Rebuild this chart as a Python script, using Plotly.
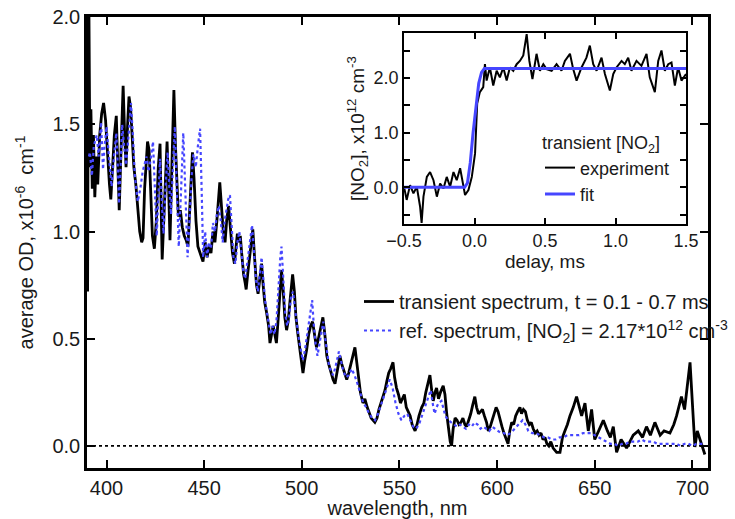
import plotly.graph_objects as go

# ---- main spectrum: transient (black) ----
trans_wl = [390.3, 390.8, 391.5, 392.0, 392.7, 393.3, 394.0, 394.8, 395.5, 396.5, 397.5, 398.5, 399.5,
            400.5, 401.5, 402.2, 403.0, 404.0, 405.0, 405.8, 406.5, 407.5, 408.5, 409.3, 410.0, 410.8,
            411.5, 412.3, 413.2, 414.0, 415.0, 416.0, 417.0, 418.0, 418.7, 419.5, 420.3, 421.0, 421.8,
            422.6, 423.5, 424.5, 425.5, 426.5, 427.4, 428.0, 428.5, 429.3, 430.2, 431.0, 431.8, 432.5,
            433.3, 434.5, 435.3, 436.0, 436.8, 437.8, 438.8, 439.8, 440.8, 441.7, 442.5, 443.3, 444.0,
            444.8, 445.8, 446.8, 448.0, 449.4, 450.5, 451.5, 452.5, 453.5, 454.5, 455.5, 456.5, 457.3,
            458.0, 459.0, 459.8, 460.7, 461.5, 462.5, 463.5, 464.5, 465.5, 466.3, 467.0, 467.8, 468.5,
            469.2, 470.2, 471.0, 471.5, 472.5, 473.5, 474.9, 475.8, 476.8, 477.6, 478.5, 479.4, 480.2,
            481.0, 482.0, 483.0, 483.7, 484.5, 485.3, 486.2, 487.0, 487.8, 488.7, 489.6, 490.5, 491.3,
            492.2, 493.0, 494.0, 495.3, 496.2, 497.0, 498.0, 499.0, 500.0, 500.6, 501.5, 502.5, 503.5,
            504.5, 505.5, 506.5, 507.5, 508.5, 509.5, 510.8, 511.8, 512.8, 513.8, 515.0, 516.0, 517.0,
            518.0, 519.5, 520.5, 521.5, 523.0, 524.0, 525.0, 526.0, 527.2, 528.0, 529.0, 530.0, 531.3,
            532.3, 533.5, 534.5, 535.5, 537.4, 538.5, 539.5, 540.5, 541.5, 542.6, 543.5, 544.5, 545.5,
            546.7, 547.5, 548.5, 549.5, 550.5, 551.5, 552.5, 553.5, 554.5, 555.5, 556.5, 558.0, 559.0,
            560.0, 561.4, 562.5, 563.5, 564.5, 565.6, 566.5, 567.3, 568.2, 569.0, 570.0, 571.0, 572.4,
            573.3, 574.2, 575.0, 576.0, 576.7, 577.5, 578.5, 579.5, 580.5, 581.5, 582.5, 583.5, 584.4,
            585.5, 586.5, 587.5, 588.6, 589.5, 590.5, 591.5, 592.5, 593.5, 594.6, 595.5, 596.5, 597.5,
            598.5, 599.5, 600.5, 601.5, 602.5, 603.5, 604.9, 605.6, 606.5, 607.5, 608.5, 609.5, 610.5,
            611.7, 612.5, 613.5, 614.5, 615.5, 616.5, 617.5, 618.5, 619.5, 620.5, 621.5, 622.5, 623.5,
            624.5, 625.5, 626.5, 627.5, 628.7, 629.5, 630.5, 632.2, 633.5, 634.7, 636.0, 637.3, 639.0,
            640.7, 642.0, 643.3, 645.0, 646.7, 648.4, 650.0, 652.0, 654.4, 656.5, 658.0, 659.5, 661.2,
            663.5, 666.3, 668.0, 669.7, 672.3, 674.5, 676.5, 678.5, 680.8, 683.5, 685.5, 688.5, 690.5,
            691.9, 694.4, 696.0, 698.8, 700.0, 701.3, 702.5, 704.0, 706.4]
trans_od = [0.72, 2.30, 1.30, 1.57, 1.20, 1.45, 1.16, 1.35, 1.22, 1.45, 1.55, 1.60, 1.52,
            1.35, 1.22, 1.15, 1.30, 1.45, 1.54, 1.30, 1.10, 1.40, 1.68, 1.45, 1.30, 1.50,
            1.63, 1.58, 1.40, 1.30, 1.22, 1.10, 1.00, 0.95, 0.97, 1.20, 1.35, 1.42, 1.38,
            1.15, 0.98, 0.92, 1.05, 1.30, 1.41, 1.10, 0.87, 1.05, 1.30, 1.42, 1.20, 0.96,
            1.25, 1.66, 1.40, 1.20, 1.07, 1.10, 1.02, 0.98, 0.96, 0.93, 1.10, 1.30, 1.37,
            1.25, 1.05, 0.93, 0.90, 0.86, 0.95, 0.88, 0.93, 0.90, 1.00, 0.95, 1.05, 1.15,
            1.23, 1.10, 1.00, 0.95, 1.05, 1.12, 1.02, 0.90, 0.85, 0.92, 0.99, 0.95, 0.98,
            0.90, 0.80, 0.76, 0.73, 0.82, 0.90, 1.01, 0.88, 0.75, 0.71, 0.78, 0.85, 0.75,
            0.67, 0.62, 0.56, 0.48, 0.53, 0.56, 0.52, 0.48, 0.58, 0.72, 0.82, 0.72, 0.60,
            0.54, 0.58, 0.68, 0.80, 0.72, 0.60, 0.52, 0.45, 0.38, 0.34, 0.40, 0.45, 0.52,
            0.56, 0.58, 0.52, 0.46, 0.50, 0.55, 0.60, 0.52, 0.42, 0.38, 0.34, 0.31, 0.29,
            0.35, 0.42, 0.38, 0.35, 0.31, 0.34, 0.38, 0.42, 0.46, 0.40, 0.32, 0.25, 0.20,
            0.22, 0.18, 0.15, 0.13, 0.11, 0.13, 0.17, 0.20, 0.22, 0.26, 0.30, 0.34, 0.36,
            0.39, 0.32, 0.27, 0.24, 0.20, 0.22, 0.24, 0.18, 0.16, 0.14, 0.10, 0.07, 0.10,
            0.14, 0.18, 0.20, 0.25, 0.29, 0.33, 0.26, 0.21, 0.25, 0.27, 0.22, 0.25, 0.28,
            0.24, 0.15, 0.08, 0.02, 0.00, 0.08, 0.13, 0.12, 0.10, 0.11, 0.13, 0.10, 0.09,
            0.12, 0.15, 0.19, 0.23, 0.18, 0.15, 0.16, 0.17, 0.14, 0.11, 0.07, 0.09, 0.12,
            0.15, 0.18, 0.16, 0.12, 0.09, 0.06, 0.03, 0.01, 0.07, 0.11, 0.10, 0.14, 0.16,
            0.18, 0.15, 0.17, 0.16, 0.12, 0.10, 0.11, 0.08, 0.06, 0.07, 0.05, 0.06, 0.03,
            0.04, 0.01, 0.00, 0.02, -0.01, -0.02, -0.03, -0.03, 0.04, 0.07, 0.10, 0.14, 0.18,
            0.23, 0.19, 0.14, 0.20, 0.07, 0.17, 0.03, 0.07, 0.12, 0.07, 0.04, 0.09, -0.03,
            0.03, -0.01, 0.02, 0.05, 0.07, 0.04, 0.09, 0.05, 0.11, 0.05, 0.07, 0.06, 0.10,
            0.14, 0.23, 0.17, 0.39, 0.20, -0.005, 0.07, 0.03, -0.04]

# ---- main spectrum: reference (blue dotted) ----
ref_wl = [391.0, 391.5, 392.5, 393.5, 395.0, 396.0, 397.2, 398.2, 399.0, 400.0, 401.2, 402.6, 403.8,
          405.0, 405.8, 406.4, 407.2, 408.0, 409.0, 410.0, 411.3, 412.5, 413.5, 414.5, 416.0, 417.3,
          418.5, 420.5, 421.5, 422.5, 423.8, 424.8, 425.7, 426.5, 427.4, 428.5, 429.2, 430.2, 431.3,
          432.2, 433.0, 434.0, 435.0, 436.0, 437.0, 438.2, 439.3, 440.5, 441.5, 442.5, 443.5, 444.5,
          445.7, 446.8, 447.9, 448.7, 449.5, 450.5, 451.5, 452.5, 453.5, 454.5, 455.5, 456.5, 457.5,
          458.5, 459.5, 460.5, 461.5, 462.3, 463.2, 464.2, 465.0, 466.0, 467.0, 468.0, 469.0, 470.0,
          471.0, 472.0, 473.0, 474.5, 475.5, 476.5, 477.5, 478.5, 479.4, 480.3, 481.2, 482.2, 483.2,
          484.0, 485.0, 486.0, 487.0, 488.0, 489.0, 489.6, 490.5, 491.5, 492.5, 493.5, 494.5, 495.5,
          496.5, 497.5, 498.5, 499.5, 500.5, 501.5, 502.5, 503.5, 504.5, 505.3, 506.0, 507.0, 508.0,
          509.0, 510.0, 511.0, 512.0, 513.0, 514.0, 515.0, 516.0, 517.0, 518.0, 519.0, 520.0, 521.0,
          522.5, 524.0, 525.5, 527.0, 528.5, 530.0, 531.5, 533.0, 534.5, 536.0, 537.5, 539.0, 540.5,
          542.0, 543.5, 545.0, 546.5, 548.0, 549.5, 551.0, 552.5, 554.0, 555.5, 557.0, 558.5, 560.0,
          561.5, 563.0, 564.5, 566.0, 567.0, 568.0, 569.0, 570.0, 571.5, 572.5, 573.5, 575.0, 576.5,
          578.0, 579.5, 581.0, 582.5, 584.0, 585.5, 587.0, 588.5, 590.0, 591.5, 593.0, 594.5, 596.0,
          597.5, 599.0, 600.5, 602.0, 603.5, 605.0, 607.0, 609.0, 611.0, 613.0, 614.5, 616.0, 618.0,
          620.0, 622.0, 624.0, 626.0, 628.0, 630.0, 632.0, 634.0, 636.0, 638.0, 640.0, 642.0, 644.0,
          646.0, 648.0, 650.0, 652.0, 654.0, 656.0, 658.0, 660.0, 662.0, 664.0, 666.0, 668.0, 670.0,
          672.0, 674.0, 676.0, 678.0, 680.0, 682.0, 684.0, 686.0, 688.0, 690.0, 692.0, 694.0, 696.0,
          698.0, 700.0, 702.0, 704.0, 706.0]
ref_od = [1.35, 1.37, 1.26, 1.40, 1.45, 1.35, 1.51, 1.29, 1.40, 1.49, 1.35, 1.21, 1.35,
          1.46, 1.30, 1.13, 1.30, 1.50, 1.40, 1.31, 1.45, 1.60, 1.45, 1.26, 1.14, 1.20,
          1.28, 1.35, 1.28, 1.33, 1.42, 1.20, 0.98, 1.15, 1.34, 1.10, 0.99, 1.20, 1.37,
          1.20, 1.08, 1.30, 1.49, 1.20, 0.93, 1.20, 1.46, 1.15, 0.88, 1.05, 1.25, 1.36,
          1.30, 1.40, 1.48, 1.20, 0.88, 1.00, 0.88, 0.95, 0.92, 1.04, 1.00, 1.08, 1.12,
          1.05, 0.95, 1.05, 1.10, 1.15, 1.17, 0.98, 0.88, 0.85, 0.95, 1.00, 0.90, 0.82,
          0.78, 0.84, 0.92, 1.03, 0.90, 0.78, 0.72, 0.80, 0.88, 0.78, 0.68, 0.62, 0.56,
          0.52, 0.56, 0.52, 0.58, 0.75, 0.88, 0.93, 0.80, 0.62, 0.56, 0.60, 0.70, 0.72,
          0.64, 0.56, 0.50, 0.45, 0.40, 0.44, 0.50, 0.55, 0.62, 0.68, 0.58, 0.48, 0.42,
          0.48, 0.54, 0.58, 0.50, 0.42, 0.37, 0.35, 0.33, 0.36, 0.40, 0.44, 0.40, 0.36,
          0.32, 0.33, 0.36, 0.33, 0.29, 0.24, 0.20, 0.18, 0.15, 0.13, 0.12, 0.15, 0.19,
          0.24, 0.28, 0.31, 0.27, 0.20, 0.15, 0.12, 0.14, 0.15, 0.12, 0.09, 0.08, 0.10,
          0.14, 0.18, 0.22, 0.26, 0.20, 0.15, 0.18, 0.20, 0.21, 0.17, 0.14, 0.12, 0.11,
          0.10, 0.09, 0.10, 0.09, 0.08, 0.10, 0.09, 0.11, 0.10, 0.08, 0.09, 0.08, 0.07,
          0.09, 0.08, 0.07, 0.06, 0.06, 0.05, 0.06, 0.08, 0.10, 0.12, 0.10, 0.07, 0.06,
          0.06, 0.05, 0.04, 0.04, 0.03, 0.03, 0.04, 0.04, 0.05, 0.05, 0.05, 0.05, 0.06,
          0.06, 0.06, 0.05, 0.04, 0.03, 0.02, 0.01, 0.01, 0.00, 0.01, 0.01, 0.02, 0.02,
          0.02, 0.03, 0.02, 0.02, 0.02, 0.01, 0.01, 0.01, 0.01, 0.01, 0.01, 0.00, 0.01,
          0.01, 0.00, 0.01, 0.01, 0.01]

# ---- inset: transient [NO2] ----
delay_ms = [-0.500, -0.481, -0.457, -0.433, -0.409, -0.386, -0.375, -0.362, -0.338, -0.315, -0.291,
            -0.267, -0.244, -0.220, -0.197, -0.173, -0.149, -0.126, -0.102, -0.083, -0.067, -0.043,
            -0.019, 0.004, 0.019, 0.038, 0.062, 0.074, 0.086, 0.109, 0.133, 0.157, 0.180, 0.204,
            0.228, 0.251, 0.275, 0.299, 0.322, 0.346, 0.370, 0.389, 0.411, 0.440, 0.464, 0.488,
            0.511, 0.547, 0.582, 0.617, 0.641, 0.677, 0.700, 0.724, 0.759, 0.794, 0.818, 0.842,
            0.866, 0.901, 0.925, 0.960, 0.984, 1.007, 1.043, 1.066, 1.090, 1.113, 1.149, 1.184,
            1.220, 1.243, 1.279, 1.303, 1.326, 1.350, 1.374, 1.397, 1.421, 1.444, 1.468, 1.500]
no2_exp = [0.01, -0.23, 0.04, -0.11, 0.01, -0.35, -0.65, -0.17, 0.19, 0.28, 0.13,
           -0.17, 0.07, -0.02, 0.19, 0.01, 0.28, 0.13, 0.35, 0.07, -0.14, -0.05,
           0.19, 0.62, 1.53, 1.74, 1.83, 2.25, 1.95, 2.19, 1.86, 2.13, 2.01, 2.19,
           1.95, 2.19, 2.13, 2.25, 2.31, 2.41, 2.80, 2.31, 1.98, 2.44, 2.13, 2.25,
           2.16, 2.13, 2.25, 2.13, 2.31, 2.44, 2.16, 1.95, 2.19, 2.37, 2.59, 2.25,
           2.13, 2.37, 2.07, 1.77, 2.07, 2.19, 2.31, 2.25, 2.37, 2.13, 2.31, 2.22,
           2.44, 2.01, 1.74, 2.31, 2.50, 2.13, 2.25, 2.28, 1.86, 2.19, 1.95, 2.07]
fit_ms = [-0.50, -0.07, -0.05, -0.03, -0.01, 0.01, 0.03, 0.05, 0.07, 0.09, 1.50]
no2_fit = [0.00, 0.00, 0.08, 0.45, 1.00, 1.50, 1.90, 2.10, 2.17, 2.17, 2.17]

x_ticks = [400, 450, 500, 550, 600, 650, 700]
y_ticks = [0.0, 0.5, 1.0, 1.5, 2.0]
inset_x_ticks = [-0.5, 0.0, 0.5, 1.0, 1.5]
inset_y_ticks = [0.0, 1.0, 2.0]

FONT = "Liberation Sans, Arial, sans-serif"
TXT = "#1a1a1a"
BLUE = "#4646ff"

W, H = 735, 519
PL, PR, PT, PB = 87, 708, 17, 468          # plot area in window pixels
PW, PH = PR - PL, PB - PT

def px_x(x):
    return (x - PL) / PW

def px_y(y):
    return (PB - y) / PH

fig = go.Figure()
fig.add_trace(go.Scatter(x=trans_wl, y=trans_od, mode="lines",
                         line=dict(color="black", width=2.8),
                         name="transient spectrum, t = 0.1 - 0.7 ms",
                         legendgroup="a", legend="legend"))
fig.add_trace(go.Scatter(x=ref_wl, y=ref_od, mode="lines",
                         line=dict(color=BLUE, width=2.2, dash="dot"),
                         name="ref. spectrum, [NO<sub>2</sub>] = 2.17*10<sup>12</sup> cm<sup>-3</sup>",
                         legendgroup="b", legend="legend"))
fig.add_trace(go.Scatter(x=delay_ms, y=no2_exp, mode="lines", xaxis="x2", yaxis="y2",
                         line=dict(color="black", width=2),
                         name="experiment", legend="legend2"))
fig.add_trace(go.Scatter(x=fit_ms, y=no2_fit, mode="lines", xaxis="x2", yaxis="y2",
                         line=dict(color=BLUE, width=3),
                         name="fit", legend="legend2"))

# dotted zero line
fig.add_shape(type="line", xref="x domain", yref="y", x0=0, x1=1, y0=0, y1=0,
              line=dict(color="black", width=1.6, dash="dot"), layer="below")

def axis_common(size):
    return dict(showline=True, linecolor="black", mirror="ticks", ticks="inside",
                tickcolor="black", showgrid=False, zeroline=False, automargin=False,
                ticklabeloverflow="allow",
                tickfont=dict(family=FONT, size=size, color=TXT))

fig.update_layout(
    width=W, height=H,
    margin=dict(l=PL, r=W - PR, t=PT, b=H - PB, autoexpand=False),
    paper_bgcolor="white", plot_bgcolor="white",
    font=dict(family=FONT, size=20, color=TXT),
    xaxis=dict(domain=[0, 1], range=[390, 708], tickvals=x_ticks,
               linewidth=2.5, ticklen=8, tickwidth=2,
               title=dict(text="wavelength, nm", font=dict(family=FONT, size=20, color=TXT), standoff=2),
               **axis_common(20)),
    yaxis=dict(domain=[0, 1], range=[-0.103, 2.001], tickvals=y_ticks, tickformat=".1f",
               linewidth=2.5, ticklen=8, tickwidth=2,
               title=dict(text="average OD, x10<sup>-6</sup>&nbsp;&nbsp;cm<sup>-1</sup>",
                          font=dict(family=FONT, size=20, color=TXT), standoff=14),
               **axis_common(20)),
    xaxis2=dict(domain=[px_x(404), px_x(686)], anchor="y2", range=[-0.5, 1.5], tickvals=inset_x_ticks,
                tickformat=".1f", linewidth=1.5, ticklen=6, tickwidth=1.5,
                title=dict(text="delay, ms", font=dict(family=FONT, size=19, color=TXT), standoff=2),
                **axis_common(18)),
    yaxis2=dict(domain=[px_y(224), px_y(33)], anchor="x2", range=[-0.67, 2.82], tickvals=inset_y_ticks,
                tickformat=".1f", linewidth=1.5, ticklen=6, tickwidth=1.5,
                minor=dict(dtick=0.5, ticks="inside", ticklen=6, tickwidth=1.5, tickcolor="black"),
                title=dict(text="[NO<sub>2</sub>], x10<sup>12</sup> cm<sup>-3</sup>",
                           font=dict(family=FONT, size=19, color=TXT), standoff=4),
                **axis_common(18)),
    legend=dict(x=px_x(359), y=px_y(282), xanchor="left", yanchor="top",
                bgcolor="rgba(0,0,0,0)", font=dict(family=FONT, size=20, color=TXT),
                traceorder="grouped", tracegroupgap=0, itemwidth=30),
    legend2=dict(x=px_x(540), y=px_y(126), xanchor="left", yanchor="top",
                 bgcolor="rgba(0,0,0,0)", font=dict(family=FONT, size=18, color=TXT),
                 title=dict(text="transient [NO<sub>2</sub>]", font=dict(family=FONT, size=18, color=TXT)),
                 tracegroupgap=0, itemwidth=30),
)

# remove the page's default body margin so the figure sits at the window origin
fig.write_html("out.html", config={"displayModeBar": False},
               post_script="document.body.style.margin='0';document.body.style.overflow='hidden';")
